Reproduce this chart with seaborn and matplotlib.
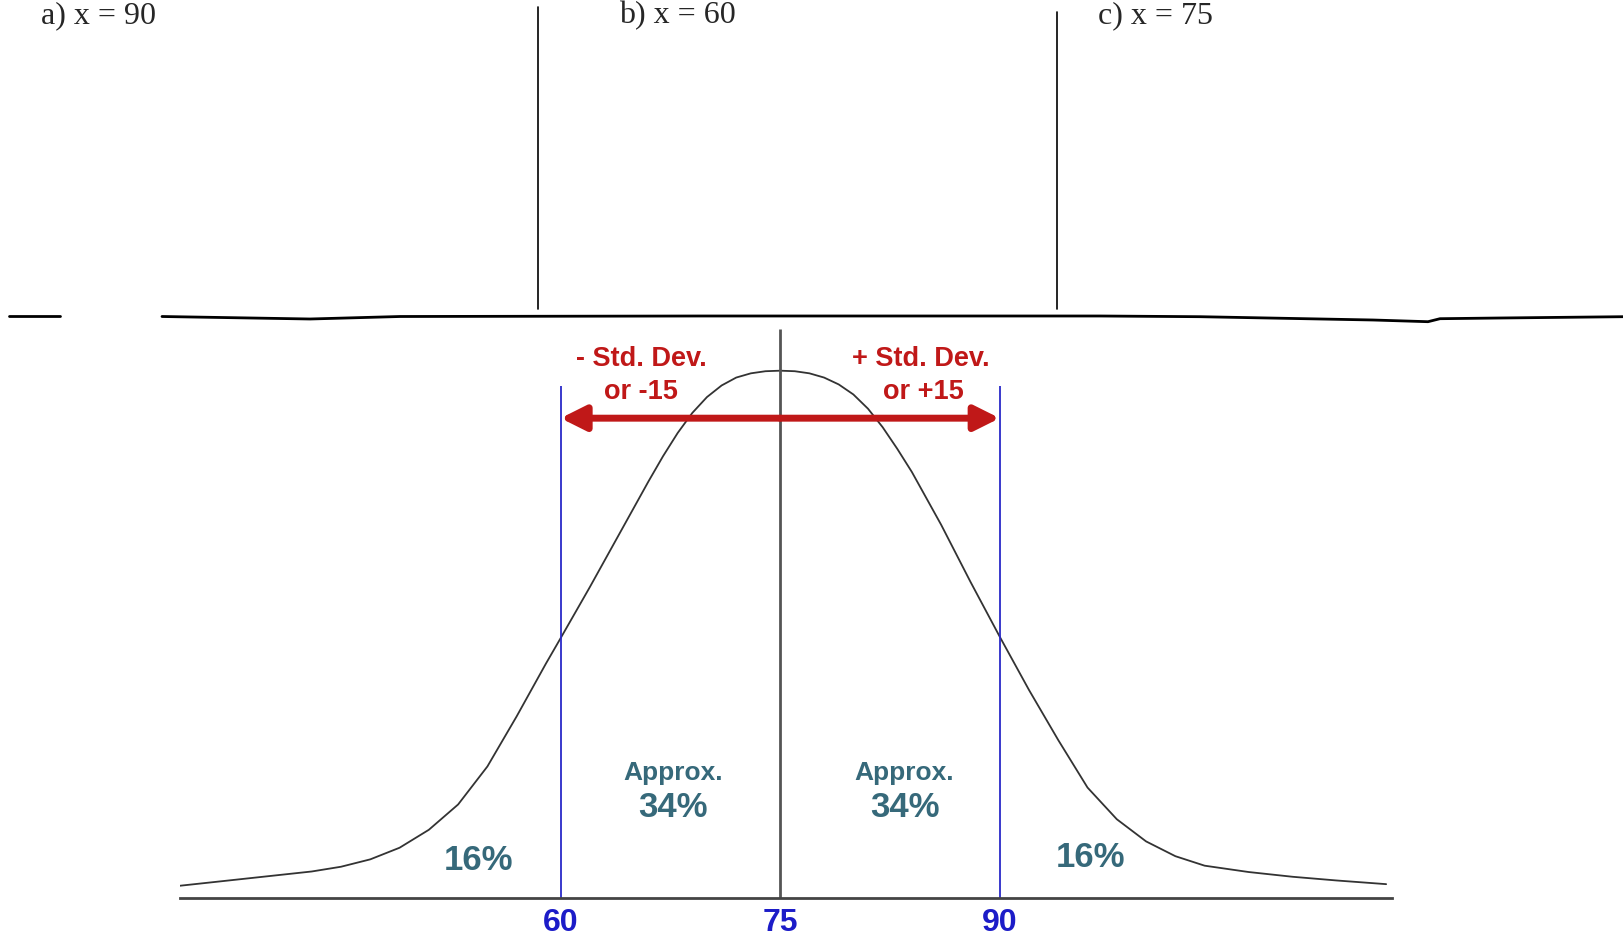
import numpy as np
import pandas as pd
import matplotlib.pyplot as plt
import seaborn as sns

# === DATA ===
# bell curve: score vs relative height (peak = 1)
curve_x = [34, 37, 40, 43, 45, 47, 49, 51, 53, 55, 57, 59, 60, 62, 64, 66, 67, 68, 69, 70,
           71, 72, 73, 74, 75, 76, 77, 78, 79, 80, 81, 82, 83, 84, 86, 88, 90, 92, 94, 96,
           98, 100, 102, 104, 107, 110, 113, 116.4]
curve_y = [0.024, 0.033, 0.042, 0.051, 0.060, 0.074, 0.096, 0.130, 0.178, 0.250, 0.345, 0.445,
           0.493, 0.590, 0.690, 0.790, 0.838, 0.882, 0.920, 0.950, 0.972, 0.987, 0.995, 0.999,
           1.000, 0.999, 0.995, 0.987, 0.974, 0.955, 0.928, 0.893, 0.852, 0.808, 0.708, 0.600,
           0.496, 0.395, 0.300, 0.210, 0.150, 0.108, 0.080, 0.062, 0.050, 0.041, 0.034, 0.027]

mean_val = 75
sd_lines = [60, 90]
tick_vals = [60, 75, 90]
tick_labels = ["60", "75", "90"]

tail_labels = ["16%", "16%"]
tail_pos = [(54.4, 0.071), (96.2, 0.078)]
mid_pos = [67.7, 83.5]

questions = ["a) x = 90", "b) x = 60", "c) x = 75"]
question_x = [41, 619, 1098]   # pixel positions of the worksheet columns

df = pd.DataFrame({"score": curve_x, "height": curve_y})

# === FIGURE ===
W, H = 1623, 939
sns.set_style("white")
plt.rcParams["font.family"] = ["Liberation Sans", "DejaVu Sans"]
fig = plt.figure(figsize=(W / 100, H / 100), dpi=100)


def px_rect(l, t, r, b):
    return [l / W, 1 - b / H, (r - l) / W, (b - t) / H]


# worksheet part on top, pixel coordinates
top = fig.add_axes([0, 0, 1, 1])
top.set_xlim(0, W)
top.set_ylim(H, 0)
top.axis("off")
top.patch.set_alpha(0)
for q, qx in zip(questions, question_x):
    top.text(qx, 16, q, fontsize=23, family="Liberation Serif", va="center", ha="left")
top.plot([538, 538], [7, 309], color="black", lw=1.2)
top.plot([1057, 1057], [12, 309], color="black", lw=1.2)
top.plot([9, 60], [316, 316], color="black", lw=2)
top.plot([162, 310, 400, 700, 1100, 1200, 1373, 1428, 1440, 1500, 1623],
         [316.5, 319, 316.5, 316, 316, 316.7, 320, 321.7, 318.7, 318, 316.7],
         color="black", lw=2)

# === BELL CURVE ===
ax = fig.add_axes(px_rect(180, 329, 1392, 898.4))
sns.lineplot(data=df, x="score", y="height", ax=ax, color="#333333", lw=1.3)
ax.set_xlim(34, 116.8)
ax.set_ylim(0, 1.079)

ax.vlines(sd_lines, 0, 0.971, color="#2a2ac8", lw=1.3)
ax.vlines(mean_val, 0, 1.079, color="#555555", lw=2)

# red double arrow
red = "#c01818"
for end in sd_lines:
    ax.annotate("", xy=(end, 0.91), xytext=(mean_val, 0.91),
                arrowprops=dict(arrowstyle="-|>,head_length=1.5,head_width=0.75", color=red, lw=5,
                                shrinkA=0, shrinkB=0))
ax.text(65.5, 1.022, "- Std. Dev.", color=red, fontsize=19.5, fontweight="bold",
        ha="center", va="center", clip_on=False)
ax.text(65.5, 0.960, "or -15", color=red, fontsize=19.5, fontweight="bold",
        ha="center", va="center", clip_on=False)
ax.text(84.6, 1.022, "+ Std. Dev.", color=red, fontsize=19.5, fontweight="bold",
        ha="center", va="center", clip_on=False)
ax.text(84.8, 0.960, "or +15", color=red, fontsize=19.5, fontweight="bold",
        ha="center", va="center", clip_on=False)

teal = "#36697a"
for mx in mid_pos:
    ax.text(mx, 0.237, "Approx.", color=teal, fontsize=19, fontweight="bold", ha="center", va="center")
    ax.text(mx, 0.172, "34%", color=teal, fontsize=25, fontweight="bold", ha="center", va="center")
for lab, (tx, ty) in zip(tail_labels, tail_pos):
    ax.text(tx, ty, lab, color=teal, fontsize=25, fontweight="bold", ha="center", va="center")

ax.set_xticks(tick_vals)
ax.set_xticklabels(tick_labels, color="#1c1cc8", fontsize=23, fontweight="bold")
ax.tick_params(axis="x", length=0, pad=7)
ax.set_yticks([])
ax.set_xlabel("")
ax.set_ylabel("")
for s in ["top", "left", "right"]:
    ax.spines[s].set_visible(False)
ax.spines["bottom"].set_color("#444444")
ax.spines["bottom"].set_linewidth(2)

fig.savefig("out.png", dpi=100)
